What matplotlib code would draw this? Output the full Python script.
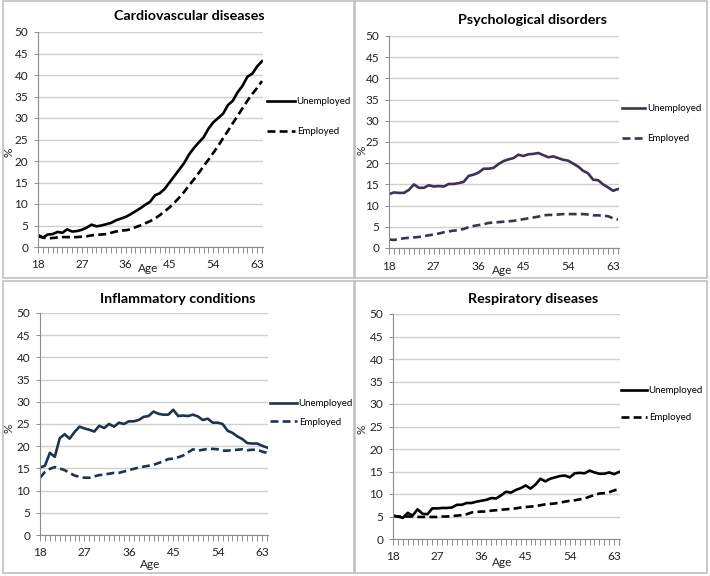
import numpy as np
import matplotlib
matplotlib.use("Agg")
import matplotlib.pyplot as plt
from matplotlib.patches import Rectangle

plt.rcParams["font.family"] = ["Lato", "DejaVu Sans"]

ages = list(range(18, 65))

cardio_unemp = [2.8, 2.2, 2.9, 3.0, 3.5, 3.3, 4.1, 3.6, 3.7, 4.0, 4.5, 5.2, 4.8,
                5.0, 5.3, 5.6, 6.2, 6.6, 7.0, 7.6, 8.3, 9.0, 9.8, 10.5, 12.0,
                12.5, 13.5, 15.0, 16.5, 18.0, 19.5, 21.5, 23.0, 24.3, 25.5,
                27.5, 29.0, 30.0, 31.0, 33.0, 34.0, 36.0, 37.5, 39.6, 40.3,
                42.0, 43.2]
cardio_emp = [2.5, 2.2, 2.0, 2.1, 2.2, 2.3, 2.3, 2.3, 2.3, 2.4, 2.5, 2.7, 2.8,
              2.9, 3.0, 3.3, 3.6, 3.8, 3.9, 4.1, 4.6, 5.0, 5.5, 6.0, 6.6, 7.4,
              8.3, 9.2, 10.3, 11.5, 12.8, 14.3, 15.7, 17.2, 18.8, 20.3, 21.9,
              23.5, 25.3, 27.0, 28.8, 30.5, 32.3, 34.0, 35.6, 37.0, 38.6]

psych_unemp = [12.7, 13.1, 13.0, 13.0, 13.7, 15.0, 14.2, 14.2, 14.8, 14.5, 14.6,
               14.5, 15.1, 15.1, 15.3, 15.6, 17.0, 17.3, 17.8, 18.7, 18.7, 18.9,
               19.8, 20.5, 20.9, 21.2, 22.0, 21.7, 22.1, 22.2, 22.4, 21.9, 21.4,
               21.6, 21.2, 20.8, 20.6, 19.9, 19.2, 18.2, 17.6, 16.1, 16.0, 15.0,
               14.3, 13.5, 13.9]
psych_emp = [2.0, 1.9, 2.1, 2.3, 2.4, 2.5, 2.6, 2.8, 3.0, 3.2, 3.4, 3.7, 3.9,
             4.1, 4.2, 4.5, 4.9, 5.2, 5.4, 5.6, 5.9, 6.0, 6.1, 6.2, 6.3, 6.4,
             6.6, 6.8, 7.0, 7.2, 7.4, 7.7, 7.8, 7.8, 7.9, 8.0, 8.0, 8.0, 8.0,
             8.0, 7.9, 7.7, 7.7, 7.6, 7.5, 7.0, 6.7]

inflam_unemp = [15.2, 15.6, 18.5, 17.6, 21.8, 22.7, 21.7, 23.2, 24.4, 24.0, 23.7,
                23.3, 24.6, 24.1, 25.0, 24.4, 25.3, 25.0, 25.6, 25.6, 25.9, 26.6,
                26.8, 27.8, 27.3, 27.1, 27.1, 28.2, 26.8, 26.9, 26.8, 27.1, 26.7,
                25.9, 26.2, 25.3, 25.3, 25.0, 23.5, 23.0, 22.2, 21.6, 20.7, 20.6,
                20.6, 20.1, 19.7]
inflam_emp = [12.9, 14.2, 14.9, 15.3, 15.0, 14.6, 14.0, 13.4, 13.1, 12.9, 12.9,
              13.2, 13.5, 13.6, 13.8, 14.0, 14.0, 14.3, 14.6, 14.9, 15.2, 15.4,
              15.6, 15.8, 16.2, 16.6, 17.1, 17.2, 17.5, 17.9, 18.6, 19.3, 19.0,
              19.2, 19.4, 19.4, 19.3, 19.0, 19.0, 19.1, 19.2, 19.3, 19.1, 19.2,
              19.2, 18.8, 18.5]

resp_unemp = [5.2, 5.0, 4.7, 5.8, 5.2, 6.6, 5.6, 5.5, 6.8, 6.8, 6.9, 6.9, 7.0,
              7.6, 7.6, 8.0, 8.0, 8.3, 8.5, 8.7, 9.1, 9.0, 9.7, 10.5, 10.3,
              10.9, 11.3, 11.9, 11.2, 12.1, 13.4, 12.8, 13.4, 13.7, 14.0, 14.1,
              13.7, 14.6, 14.7, 14.6, 15.2, 14.8, 14.5, 14.5, 14.8, 14.4, 14.9]
resp_emp = [5.1, 5.0, 5.0, 5.0, 5.0, 4.9, 4.9, 4.9, 4.9, 4.9, 5.0, 5.0, 5.1,
            5.2, 5.3, 5.5, 5.9, 6.0, 6.1, 6.1, 6.3, 6.4, 6.5, 6.6, 6.7, 6.8,
            7.0, 7.1, 7.2, 7.3, 7.5, 7.7, 7.8, 7.9, 8.1, 8.3, 8.5, 8.6, 8.8,
            9.0, 9.4, 9.8, 10.1, 10.2, 10.4, 10.8, 11.1]

W, H = 710, 576
fig = plt.figure(figsize=(W / 100, H / 100), dpi=100)


def frac(left, top, right, bottom):
    return [left / W, 1 - bottom / H, (right - left) / W, (bottom - top) / H]


# panel frames (pixels: left, top, right, bottom)
for box in [(3, 1, 354, 278), (355, 1, 707, 278), (3, 281, 354, 573), (355, 281, 707, 573)]:
    l, t, r, b = box
    fig.add_artist(Rectangle((l / W, 1 - b / H), (r - l) / W, (b - t) / H,
                             transform=fig.transFigure, fill=False,
                             edgecolor="#c0c0c0", lw=1.2))

# title, lines, colour, plot box, legend anchor/spacing/handle, title pos, "%" pos, "Age" pos
panels = [
    ("Cardiovascular diseases", cardio_unemp, cardio_emp, "black",
     (38, 32, 263, 247), (267, 97, 2.15, 2.9), (189, 16), (9, 152), (148, 268)),
    ("Psychological disorders", psych_unemp, psych_emp, "#403151",
     (389, 36, 619, 248), (622, 104, 2.15, 2.4), (532, 20), (362, 150), (502, 270)),
    ("Inflammatory conditions", inflam_unemp, inflam_emp, "#1f334d",
     (40, 313, 268, 535), (270, 399, 1.0, 2.8), (178, 299), (9, 428), (150, 564)),
    ("Respiratory diseases", resp_unemp, resp_emp, "black",
     (393, 314, 620, 539), (621, 386, 1.85, 2.7), (533, 299), (362, 429), (502, 563)),
]

for title, unemp, emp, color, box, leg, tpos, ypos, xpos in panels:
    ax = fig.add_axes(frac(*box))
    ax.plot(ages, unemp, color=color, lw=1.9, label="Unemployed")
    ax.plot(ages, emp, color=color, lw=1.9, ls=(0, (3, 1.6)), label="Employed")
    ax.set_xlim(18, 64.2)
    ax.set_ylim(0, 50)
    ax.set_yticks(range(0, 51, 5))
    ax.set_xticks(range(18, 64, 9))
    ax.set_xticks(ages, minor=True)
    ax.yaxis.grid(True, color="#d0d0d0", lw=1.0)
    ax.set_axisbelow(True)
    for s in ["top", "right"]:
        ax.spines[s].set_visible(False)
    for s in ["left", "bottom"]:
        ax.spines[s].set_color("#8c8c8c")
        ax.spines[s].set_linewidth(0.8)
    ax.tick_params(axis="both", which="both", colors="#8c8c8c", labelcolor="#222222",
                   labelsize=8.5, width=0.7)
    ax.tick_params(axis="x", which="major", length=4, pad=5)
    ax.tick_params(axis="x", which="minor", length=4)
    ax.tick_params(axis="y", length=3, pad=4)
    fig.text(tpos[0] / W, 1 - tpos[1] / H, title, ha="center", va="center",
             fontsize=10.3, fontweight="bold", color="black")
    fig.text(ypos[0] / W, 1 - ypos[1] / H, "%", ha="center", va="center",
             rotation=90, fontsize=8.5, color="#222222")
    fig.text(xpos[0] / W, 1 - xpos[1] / H, "Age", ha="center", va="center",
             fontsize=8.5, color="#222222")
    ax.legend(loc="upper left", bbox_to_anchor=(leg[0] / W, 1 - leg[1] / H),
              bbox_transform=fig.transFigure, frameon=False,
              prop={"family": ["Liberation Sans Narrow", "Lato"], "size": 7.0},
              handlelength=leg[3], handletextpad=0.15, labelspacing=leg[2],
              borderpad=0, borderaxespad=0)

fig.savefig("out.png", dpi=100)
